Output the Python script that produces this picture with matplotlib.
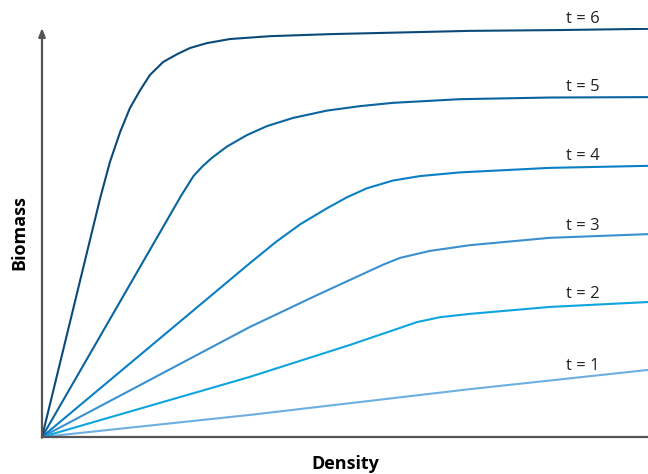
import numpy as np
import matplotlib.pyplot as plt

plt.rcParams['font.family'] = ['Open Sans', 'DejaVu Sans']

# curves (density, biomass)
x1 = [0, 3.43, 7.06, 10]
y1 = [0, 0.54, 1.17, 1.64]
x2 = [0, 3.43, 5.08, 6.19, 6.57, 7.06, 8.38, 10]
y2 = [0, 1.47, 2.25, 2.81, 2.93, 3.01, 3.18, 3.30]
x3 = [0, 3.43, 4.54, 5.36, 5.64, 5.91, 6.40, 7.06, 8.38, 10]
y3 = [0, 2.69, 3.47, 4.03, 4.22, 4.38, 4.55, 4.69, 4.87, 4.96]
x4 = [0, 3.43, 3.87, 4.26, 4.70, 5.03, 5.36, 5.79, 6.24, 6.90, 8.38, 10]
y4 = [0, 4.25, 4.78, 5.20, 5.59, 5.86, 6.08, 6.27, 6.38, 6.47, 6.58, 6.63]
x5 = [0, 2.30, 2.50, 2.65, 2.80, 3.05, 3.38, 3.71, 4.14, 4.70, 5.25, 5.79, 6.90, 8.38, 10]
y5 = [0, 5.91, 6.38, 6.62, 6.82, 7.10, 7.38, 7.60, 7.80, 7.98, 8.09, 8.17, 8.26, 8.30, 8.31]
x6 = [0, 0.96, 1.12, 1.29, 1.45, 1.62, 1.78, 2.00, 2.23, 2.44, 2.72,
      3.10, 3.76, 4.75, 5.91, 7.06, 8.55, 10]
y6 = [0, 5.84, 6.72, 7.46, 8.04, 8.48, 8.85, 9.17, 9.36, 9.51, 9.63,
      9.73, 9.80, 9.85, 9.89, 9.93, 9.95, 9.98]

labels = ['t = 1', 't = 2', 't = 3', 't = 4', 't = 5', 't = 6']
colors = ['#6db0e0', '#0ea5de', '#3a90cf', '#0b7fc4', '#0a64a0', '#0b4a78']

fig = plt.figure(figsize=(6.48, 4.74), dpi=100)
ax = fig.add_axes([42 / 648, 37 / 474, 606 / 648, 409 / 474])

curves = [(x1, y1), (x2, y2), (x3, y3), (x4, y4), (x5, y5), (x6, y6)]
label_x = 8.93
for (xs, ys), lab, c in zip(curves, labels, colors):
    ax.plot(xs, ys, color=c, lw=1.5, solid_capstyle='round', solid_joinstyle='round')
    ly = np.interp(label_x, xs, ys)
    ax.annotate(lab, (label_x, ly), xytext=(0, 2), textcoords='offset points',
                ha='center', va='bottom', fontsize=12, color='#222222',
                annotation_clip=False)

ax.set_xlim(0, 10)
ax.set_ylim(0, 10)
for s in ['top', 'right', 'left']:
    ax.spines[s].set_visible(False)
ax.spines['bottom'].set_color('#555555')
ax.spines['bottom'].set_linewidth(1.6)
ax.set_xticks([])
ax.set_yticks([])

# y axis with arrow head
ax.annotate('', xy=(0, 10), xytext=(0, -0.02), xycoords='data',
            arrowprops=dict(arrowstyle='-|>,head_length=0.5,head_width=0.2',
                            color='#555555', lw=1.6, shrinkA=0, shrinkB=0),
            annotation_clip=False)

ax.set_xlabel('Density', fontsize=13, fontweight='bold', labelpad=13)
ax.set_ylabel('Biomass', fontsize=13, fontweight='bold', labelpad=10)

fig.savefig('out.png', dpi=100)
